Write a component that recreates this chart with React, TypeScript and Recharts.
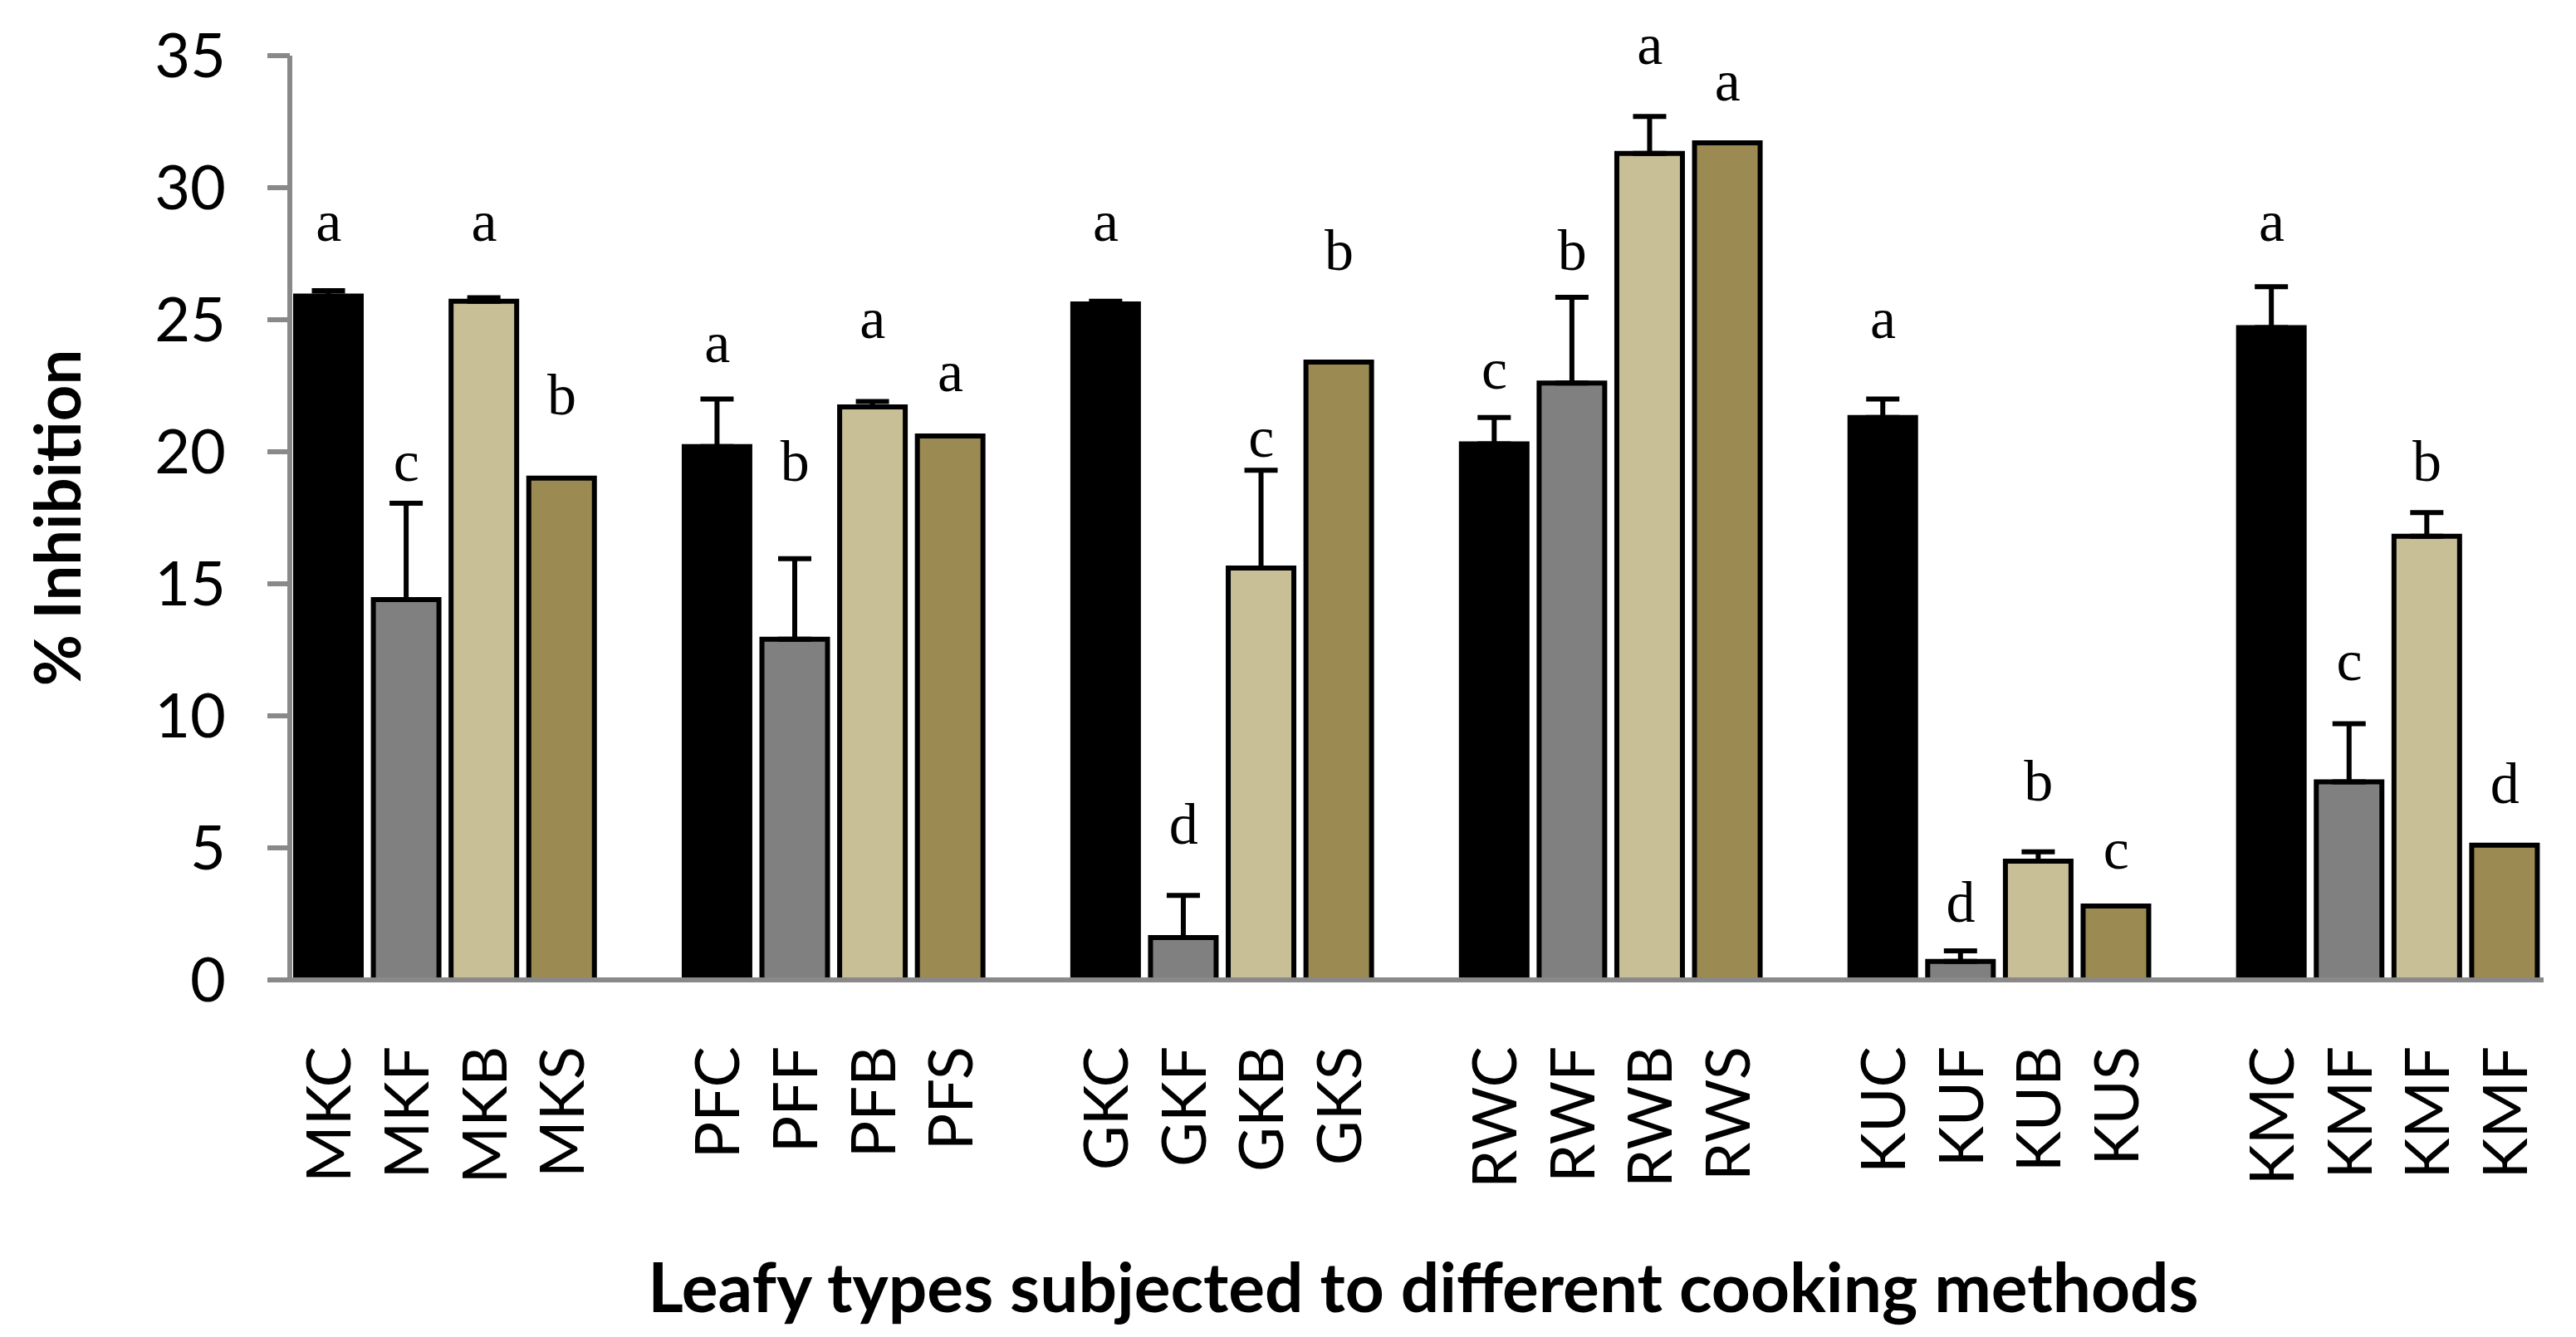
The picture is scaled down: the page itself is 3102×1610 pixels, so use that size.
import React from 'react';
import { ComposedChart, Bar, Cell, XAxis, YAxis, ErrorBar, Line, LabelList, Label } from 'recharts';

// ---- data ----
const groupSizes = [4, 4, 4, 4, 4, 4];
const barLabels = [
  'MKC', 'MKF', 'MKB', 'MKS',
  'PFC', 'PFF', 'PFB', 'PFS',
  'GKC', 'GKF', 'GKB', 'GKS',
  'RWC', 'RWF', 'RWB', 'RWS',
  'KUC', 'KUF', 'KUB', 'KUS',
  'KMC', 'KMF', 'KMF', 'KMF',
];
const inhibition = [
  25.9, 14.4, 25.7, 19.0,
  20.2, 12.9, 21.7, 20.6,
  25.6, 1.6, 15.6, 23.4,
  20.3, 22.6, 31.3, 31.7,
  21.3, 0.7, 4.5, 2.8,
  24.7, 7.5, 16.8, 5.1,
];
const errorUp: (number | null)[] = [
  0.2, 3.65, 0.13, null,
  1.8, 3.05, 0.2, null,
  0.1, 1.6, 3.7, null,
  1.0, 3.25, 1.4, null,
  0.7, 0.4, 0.35, null,
  1.55, 2.2, 0.9, null,
];
const letters = [
  'a', 'c', 'a', 'b',
  'a', 'b', 'a', 'a',
  'a', 'd', 'c', 'b',
  'c', 'b', 'a', 'a',
  'a', 'd', 'b', 'c',
  'a', 'c', 'b', 'd',
];
const letterPos = [
  28.0, 18.9, 28.0, 21.4,
  23.4, 18.9, 24.3, 22.3,
  28.0, 5.15, 19.8, 26.9,
  22.4, 26.9, 34.7, 33.3,
  24.3, 2.2, 6.8, 4.2,
  28.0, 11.35, 18.9, 6.7,
];
const methodColors = ['#000000', '#808080', '#C8BF97', '#9B8B53'];
const yTicks = [0, 5, 10, 15, 20, 25, 30, 35];

// ---- table for the chart (gaps between groups are empty categories) ----
type Row = {
  id: string;
  label: string;
  value: number | null;
  err: [number, number] | null;
  letter: string;
  letterY: number | null;
  color: string;
};
const rows: Row[] = [];
{
  let k = 0;
  groupSizes.forEach((n, g) => {
    for (let j = 0; j < n; j++) {
      rows.push({
        id: 'b' + k,
        label: barLabels[k],
        value: inhibition[k],
        err: errorUp[k] == null ? null : [0, errorUp[k] as number],
        letter: letters[k],
        letterY: letterPos[k],
        color: methodColors[j % methodColors.length],
      });
      k++;
    }
    if (g < groupSizes.length - 1) {
      rows.push({ id: 'gap' + g, label: '', value: null, err: null, letter: '', letterY: null, color: '#fff' });
    }
  });
}
const labelById: Record<string, string> = {};
rows.forEach((r) => (labelById[r.id] = r.label));

const FONT = 'Lato, "Open Sans", sans-serif';
const AXIS_GRAY = '#898989';

const XTick = (props: any) => {
  const { x, y, payload } = props;
  const text = labelById[payload.value];
  if (!text) return null;
  return (
    <g transform={`translate(${x},${y})`}>
      <text transform="rotate(-90)" x={0} y={0} dy="0.36em" textAnchor="end" fill="#000" fontSize={74} fontFamily={FONT}>
        {text}
      </text>
    </g>
  );
};

const LetterLabel = (props: any) => {
  const { x, y, value } = props;
  if (!value || x == null || y == null) return null;
  return (
    <text x={x} y={y} textAnchor="middle" fill="#000" fontSize={70} fontFamily='"Liberation Serif", "Times New Roman", serif'>
      {value}
    </text>
  );
};

const XTitle = (props: any) => {
  const vb = props.viewBox;
  return (
    <text x={vb.x + vb.width / 2 + 8} y={vb.y + 400} textAnchor="middle" fill="#000" fontSize={82} fontWeight="bold" fontFamily={FONT}>
      Leafy types subjected to different cooking methods
    </text>
  );
};

const YTitle = (props: any) => {
  const vb = props.viewBox;
  const cx = 70;
  const cy = vb.y + vb.height / 2;
  return (
    <text transform={`translate(${cx},${cy}) rotate(-90)`} x={0} y={0} dy="0.36em" textAnchor="middle" fill="#000" fontSize={76} fontWeight="bold" fontFamily={FONT}>
      % Inhibition
    </text>
  );
};

export default function App() {
  return (
    <div style={{ position: 'absolute', left: 0, top: 0, width: 3102, height: 1610, background: '#fff' }}>
      <ComposedChart width={3102} height={1610} data={rows} margin={{ top: 67, right: 39, bottom: 0, left: 0 }}>
        <XAxis
          dataKey="id"
          type="category"
          height={430}
          interval={0}
          tickLine={false}
          tickSize={0}
          tickMargin={80}
          axisLine={{ stroke: AXIS_GRAY, strokeWidth: 6 }}
          tick={<XTick />}
        >
          <Label content={<XTitle />} />
        </XAxis>
        <YAxis
          type="number"
          domain={[0, 35]}
          ticks={yTicks}
          interval={0}
          width={349}
          tickSize={27}
          tickMargin={50}
          axisLine={{ stroke: AXIS_GRAY, strokeWidth: 6 }}
          tickLine={{ stroke: AXIS_GRAY, strokeWidth: 6 }}
          tick={{ fill: '#000', fontSize: 74, fontFamily: FONT }}
        >
          <Label content={<YTitle />} />
        </YAxis>
        <Bar dataKey="value" barSize={79} stroke="#000" strokeWidth={6} isAnimationActive={false}>
          {rows.map((r) => (
            <Cell key={r.id} fill={r.color} />
          ))}
          <ErrorBar dataKey="err" width={20} strokeWidth={6} stroke="#000" direction="y" />
        </Bar>
        <Line dataKey="letterY" stroke="none" dot={false} activeDot={false} isAnimationActive={false} legendType="none">
          <LabelList dataKey="letter" content={<LetterLabel />} />
        </Line>
      </ComposedChart>
    </div>
  );
}
